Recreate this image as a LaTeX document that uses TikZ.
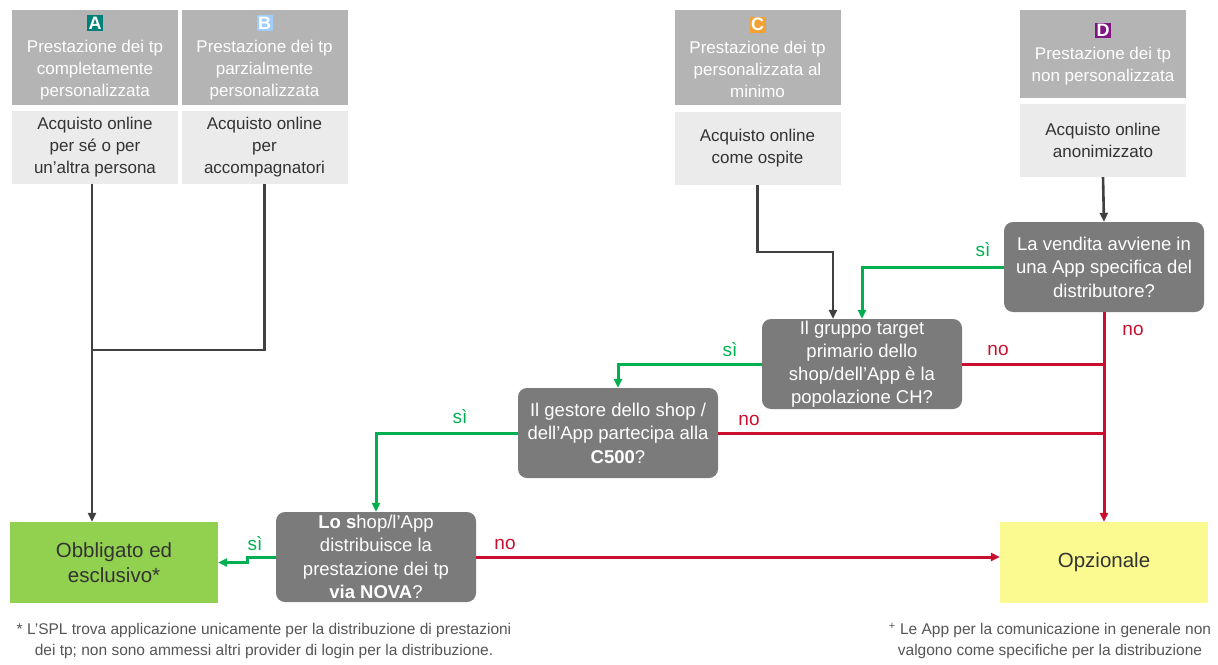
\documentclass[tikz,border=0pt]{standalone}
\usepackage{fontspec}
\setmainfont{Liberation Sans}
\usetikzlibrary{arrows.meta}
\definecolor{myred}{RGB}{200,16,46}
\definecolor{mygreen}{RGB}{0,176,80}
\definecolor{mydark}{RGB}{64,64,64}
\definecolor{myhead}{RGB}{180,180,180}
\definecolor{mybody}{RGB}{235,235,235}
\definecolor{mybox}{RGB}{123,123,123}
\definecolor{myobbl}{RGB}{146,208,80}
\definecolor{myopt}{RGB}{250,250,145}
\definecolor{myteal}{RGB}{0,128,122}
\definecolor{myblue}{RGB}{160,205,250}
\definecolor{myorange}{RGB}{245,160,50}
\definecolor{mypurple}{RGB}{130,20,130}
\definecolor{mytext}{RGB}{51,51,51}
\definecolor{mynote}{RGB}{85,85,85}

\newcommand{\tpletter}[2]{{\setlength{\fboxsep}{1.5pt}\colorbox{#1}{\fontsize{18}{18}\selectfont\textbf{#2}}}}

\tikzset{
    head/.style={fill=myhead, text=white, minimum width=166pt, minimum height=95pt,
        inner sep=0pt, align=center, font=\fontsize{17}{22}\selectfont},
    body/.style={fill=mybody, text=mytext, minimum width=166pt, minimum height=73pt,
        inner sep=0pt, align=center, font=\fontsize{17}{22}\selectfont},
    question/.style={fill=mybox, text=white, rounded corners=9pt, minimum width=200pt,
        minimum height=90pt, inner sep=0pt, align=center, font=\fontsize{18.5}{23.5}\selectfont},
    result/.style={minimum width=208pt, minimum height=81pt, inner sep=0pt,
        align=center, font=\fontsize{20.5}{25}\selectfont},
    yes/.style={text=mygreen, font=\fontsize{19}{19}\selectfont},
    no/.style={text=myred, font=\fontsize{19}{19}\selectfont},
    footnote/.style={text=mynote, align=center, inner sep=0pt, font=\fontsize{15.5}{21}\selectfont},
    darkline/.style={draw=mydark, line width=2.6pt},
    greenline/.style={draw=mygreen, line width=3pt},
    redline/.style={draw=myred, line width=3pt},
    arr/.style={-{Triangle[length=9pt,width=8pt]}}
}

\begin{document}
\begin{tikzpicture}[x=1pt, y=-1pt]
    \useasboundingbox (0,0) rectangle (1218,664);
    % Types of performance
    \node[head] (hA) at (95,57.5) {\tpletter{myteal}{A}\\[1pt]Prestazione dei tp\\completamente\\personalizzata};
    \node[body] (bA) at (95,147) {Acquisto online\\per sé o per\\un’altra persona};
    \node[head] (hB) at (264.5,57.5) {\tpletter{myblue}{B}\\[1pt]Prestazione dei tp\\parzialmente\\personalizzata};
    \node[body] (bB) at (264.5,147) {Acquisto online\\per\\accompagnatori};
    \node[head] (hC) at (757.5,57.5) {\tpletter{myorange}{C}\\[1pt]Prestazione dei tp\\personalizzata al\\minimo};
    \node[body] (bC) at (757.5,148) {Acquisto online\\come ospite};
    \node[head, minimum height=88pt] (hD) at (1103,54) {\tpletter{mypurple}{D}\\[1pt]Prestazione dei tp\\non personalizzata};
    \node[body] (bD) at (1103,140.5) {Acquisto online\\anonimizzato};

    % Questions
    \node[question] (dApp) at (1104,267) {La vendita avviene in\\una App specifica del\\distributore?};
    \node[question, font=\fontsize{18.5}{23}\selectfont] (dTarget) at (862,364) {Il gruppo target\\primario dello\\shop/dell’App è la\\popolazione CH?};
    \node[question] (dC500) at (618,433) {Il gestore dello shop /\\dell’App partecipa alla\\\textbf{C500}?};
    \node[question] (dNova) at (376,557) {\textbf{Lo s}hop/l’App\\distribuisce la\\prestazione dei tp\\\textbf{via NOVA}?};

    % Results
    \node[result, fill=myobbl, text=mytext] (rObl) at (114,562.5) {Obbligato ed\\esclusivo*};
    \node[result, fill=myopt, text=mytext] (rOpt) at (1104,562.5) {Opzionale};

    % Dark connectors
    \coordinate (joinAB) at (92,350);
    \coordinate (bendC) at (833,252);
    \draw[darkline, arr] (bA.south -| joinAB) -- (joinAB |- rObl.north);
    \draw[darkline] (bB.south) |- (joinAB);
    \draw[darkline, arr] (bC.south) |- (bendC) -- (bendC |- dTarget.north);
    \draw[darkline, arr] (bD.south) -- (dApp.north);

    % Answers yes
    \coordinate (jogNova) at (247,557);
    \draw[greenline, arr] (dApp.west) -| (dTarget.north);
    \draw[greenline, arr] (dTarget.west) -| (dC500.north);
    \draw[greenline, arr] (dC500.west) -| (dNova.north);
    \draw[greenline, arr] (dNova.west) -- (jogNova) |- (rObl.east);
    \node[yes] (ySiApp) at (983,250) {sì};
    \node[yes] (ySiTarget) at (730,350) {sì};
    \node[yes] (ySiC500) at (460,417) {sì};
    \node[yes] (ySiNova) at (255,544) {sì};

    % Answers no
    \draw[redline, arr] (dApp.south) -- (rOpt.north);
    \draw[redline] (dTarget.east) -- (dTarget.east -| dApp.south);
    \draw[redline] (dC500.east) -- (dC500.east -| dApp.south);
    \draw[redline, arr] (dNova.east) -- (dNova.east -| rOpt.west);
    \node[no] (nNoApp) at (1133,330) {no};
    \node[no] (nNoTarget) at (998,350) {no};
    \node[no] (nNoC500) at (749,420) {no};
    \node[no] (nNoNova) at (505,544) {no};

    % Footnotes
    \node[footnote] (noteObl) at (264,641) {* L’SPL trova applicazione unicamente per la distribuzione di prestazioni\\dei tp; non sono ammessi altri provider di login per la distribuzione.};
    \node[footnote] (noteOpt) at (1050,641) {\textsuperscript{+} Le App per la comunicazione in generale non\\valgono come specifiche per la distribuzione};
\end{tikzpicture}
\end{document}
